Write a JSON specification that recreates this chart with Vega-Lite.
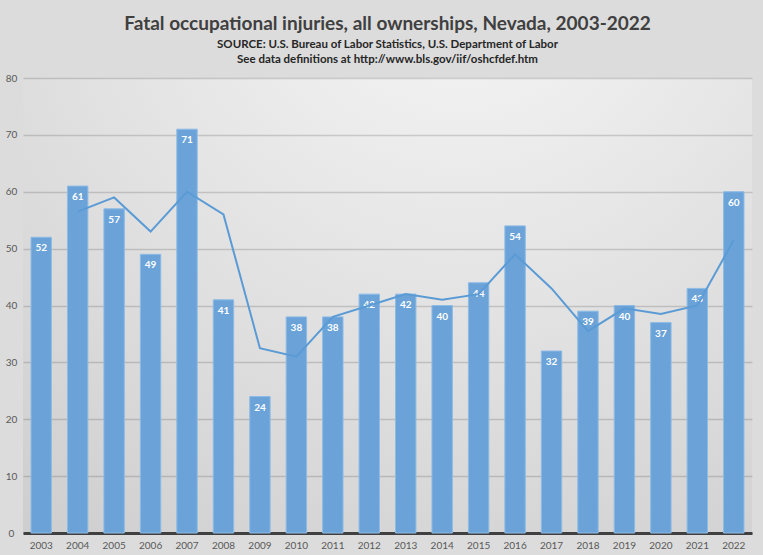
{
  "$schema": "https://vega.github.io/schema/vega-lite/v6.json",
  "width": 729,
  "height": 455,
  "autosize": {"type": "none"},
  "padding": {"left": 23, "top": 78, "right": 11, "bottom": 22},
  "background": "#dcdcdc",
  "view": {
    "stroke": null,
    "fill": {
      "gradient": "radial",
      "x1": 0.6, "y1": 0, "r1": 0,
      "x2": 0.6, "y2": 0, "r2": 1.15,
      "stops": [
        {"offset": 0, "color": "#f8f8f8"},
        {"offset": 1, "color": "#c8c8c8"}
      ]
    }
  },
  "title": {
    "text": "Fatal occupational injuries, all ownerships, Nevada, 2003-2022",
    "subtitle": ["SOURCE: U.S. Bureau of Labor Statistics, U.S. Department of Labor", "See data definitions at http://www.bls.gov/iif/oshcfdef.htm"],
    "anchor": "middle",
    "font": "Lato",
    "fontSize": 19,
    "fontWeight": "bold",
    "color": "#404040",
    "subtitleFont": "Lato",
    "subtitleFontSize": 11.5,
    "subtitleFontWeight": "bold",
    "subtitleColor": "#262626",
    "subtitlePadding": 5,
    "subtitleLineHeight": 15,
    "offset": 8
  },
  "data": {
    "values": [
      {"year": "2003", "value": 52, "avg": null},
      {"year": "2004", "value": 61, "avg": 56.5},
      {"year": "2005", "value": 57, "avg": 59},
      {"year": "2006", "value": 49, "avg": 53},
      {"year": "2007", "value": 71, "avg": 60},
      {"year": "2008", "value": 41, "avg": 56},
      {"year": "2009", "value": 24, "avg": 32.5},
      {"year": "2010", "value": 38, "avg": 31},
      {"year": "2011", "value": 38, "avg": 38},
      {"year": "2012", "value": 42, "avg": 40},
      {"year": "2013", "value": 42, "avg": 42},
      {"year": "2014", "value": 40, "avg": 41},
      {"year": "2015", "value": 44, "avg": 42},
      {"year": "2016", "value": 54, "avg": 49},
      {"year": "2017", "value": 32, "avg": 43},
      {"year": "2018", "value": 39, "avg": 35.5},
      {"year": "2019", "value": 40, "avg": 39.5},
      {"year": "2020", "value": 37, "avg": 38.5},
      {"year": "2021", "value": 43, "avg": 40},
      {"year": "2022", "value": 60, "avg": 51.5}
    ]
  },
  "encoding": {
    "x": {
      "field": "year",
      "type": "ordinal",
      "scale": {"paddingInner": 0.44, "paddingOuter": 0.22},
      "axis": {
        "title": null,
        "labelAngle": 0,
        "ticks": false,
        "domain": true,
        "domainColor": "#404040",
        "domainWidth": 3,
        "labelFont": "Lato",
        "labelFontSize": 10,
        "labelColor": "#595959",
        "labelPadding": 7
      }
    }
  },
  "layer": [
    {
      "mark": {"type": "bar", "color": "#6ba3d8", "stroke": "#8dbbe6", "strokeWidth": 1},
      "encoding": {
        "y": {
          "field": "value",
          "type": "quantitative",
          "scale": {"domain": [0, 80], "nice": false},
          "axis": {
            "title": null,
            "values": [0, 10, 20, 30, 40, 50, 60, 70, 80],
            "ticks": false,
            "domain": false,
            "grid": true,
            "gridColor": "#000000",
            "gridOpacity": 0.15,
            "gridWidth": 1.5,
            "labelFont": "Lato",
            "labelFontSize": 10,
            "labelColor": "#595959",
            "labelAlign": "center",
            "labelPadding": 12
          }
        }
      }
    },
    {
      "mark": {"type": "text", "color": "white", "fontWeight": "bold", "font": "Lato", "fontSize": 10, "baseline": "top", "dy": 6},
      "encoding": {
        "y": {"field": "value", "type": "quantitative"},
        "text": {"field": "value", "type": "quantitative"}
      }
    },
    {
      "transform": [{"filter": "datum.avg != null"}],
      "mark": {"type": "line", "color": "#5b9bd5", "strokeWidth": 2},
      "encoding": {
        "y": {"field": "avg", "type": "quantitative"}
      }
    }
  ]
}
